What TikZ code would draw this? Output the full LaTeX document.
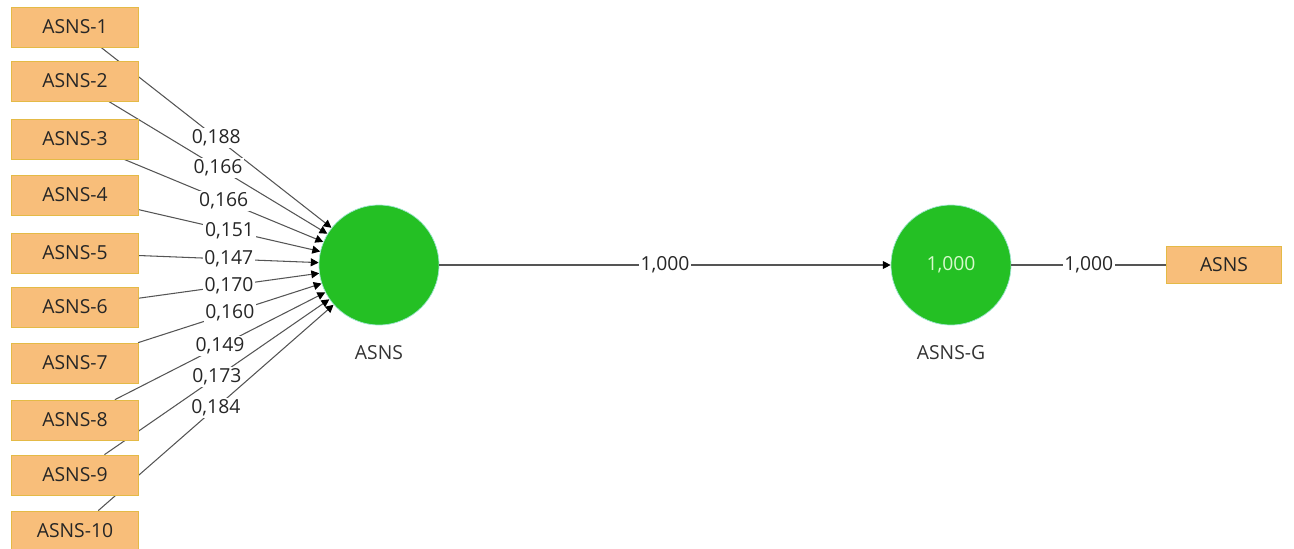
\documentclass[tikz,border=0pt]{standalone}
\usepackage{fontspec}
\setmainfont{Open Sans}
\usetikzlibrary{arrows.meta,positioning,backgrounds}
\definecolor{boxfill}{RGB}{248,190,122}
\definecolor{boxline}{RGB}{228,186,70}
\definecolor{lvfill}{RGB}{36,192,36}
\definecolor{lvline}{RGB}{160,230,210}
\definecolor{edgecol}{RGB}{85,85,85}
\definecolor{lvtext}{RGB}{215,250,205}

\begin{document}
\begin{tikzpicture}[
        x=0.02cm, y=-0.02cm,
        box/.style={rectangle, draw=boxline, fill=boxfill,
                    minimum width=2.54cm, minimum height=0.8cm,
                    font=\fontsize{11}{13}\selectfont, text=black!85},
        lv/.style={circle, draw=lvline, fill=lvfill, minimum size=2.4cm,
                   inner sep=0pt, font=\fontsize{11}{13}\selectfont, text=lvtext},
        lvname/.style={font=\fontsize{11}{13}\selectfont, text=black!80},
        edge/.style={draw=edgecol, line width=0.6pt},
        tip/.style={-{Triangle[length=4.5pt,width=4.5pt,color=black]}},
        lbl/.style={fill=white, inner sep=1pt, font=\fontsize{11}{13}\selectfont, text=black!85}
      ]
      \useasboundingbox (0,0) rectangle (1294,548);

      % indicators
      \foreach \i/\y in {1/27,2/81,3/139,4/195,5/253,6/307,7/363,8/420,9/475,10/531}
        \node[box] (ind\i) at (75,\y) {ASNS-\i};

      % latent variables
      \node[lv] (asns) at (379,265) {};
      \node[lvname, below=0.28cm of asns] (asnsname) {ASNS};
      \node[lv] (asnsg) at (951,265) {1,000};
      \node[lvname, below=0.28cm of asnsg] (asnsgname) {ASNS-G};
      \node[box, minimum width=2.3cm, minimum height=0.74cm] (asnsbox) at (1224,265) {ASNS};

      % weights
      \begin{pgfonlayer}{background}
        \foreach \i/\w in {1/188,2/166,3/166,4/151,5/147,6/170,7/160,8/149,9/173,10/184}
          \draw[edge, tip] (ind\i) -- node[lbl, pos=0.5]{0,\w} (asns);
      \end{pgfonlayer}

      \draw[edge, tip] (asns) -- node[lbl]{1,000} (asnsg);
      \draw[edge] (asnsg) -- node[lbl]{1,000} (asnsbox);
    \end{tikzpicture}
\end{document}
